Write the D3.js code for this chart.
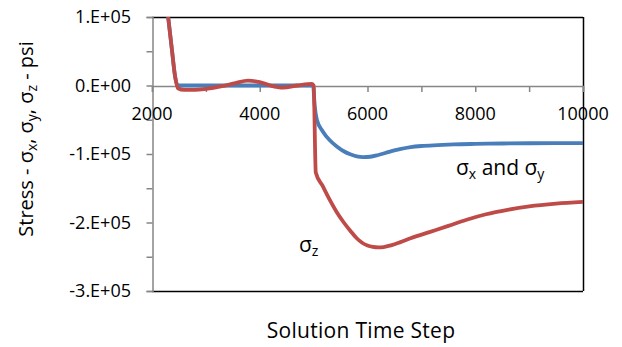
<!DOCTYPE html>
<html><head><meta charset="utf-8">
<script src="https://cdn.jsdelivr.net/npm/d3@7"></script>
<style>body{margin:0;background:#fff}svg{display:block}text{font-family:"Open Sans",sans-serif;fill:#000}</style>
</head><body><svg id="c" width="622" height="347"></svg>
<script>
const xTicks = [2000, 4000, 6000, 8000, 10000];
const yTicks = [100000, 0, -100000, -200000, -300000];
const yTickLabels = ["1.E+05", "0.E+00", "-1.E+05", "-2.E+05", "-3.E+05"];
const sigmaXY = [[2300,100000],[2370,52000],[2430,12000],[2480,0],[3000,0],[4000,0],[4990,0],[5020,-30000],[5060,-50000],[5170,-67000],[5300,-80000],[5430,-89000],[5560,-96000],[5680,-100500],[5800,-103500],[5920,-104500],[6050,-104000],[6200,-101500],[6400,-97000],[6600,-93000],[6800,-90000],[7000,-88300],[7300,-87000],[7600,-86000],[8000,-85300],[8500,-84700],[9000,-84300],[9500,-84000],[10000,-84000]];
const sigmaZ = [[2300,100000],[2370,52000],[2430,13000],[2480,-4000],[2600,-6500],[2800,-6500],[3000,-5000],[3300,-1000],[3550,3500],[3780,7000],[4000,5000],[4200,0],[4430,-3000],[4700,0],[4970,2500],[5000,0],[5040,-127000],[5170,-147000],[5300,-167000],[5430,-185000],[5560,-200000],[5680,-212000],[5800,-223000],[5900,-229500],[6000,-233500],[6100,-235500],[6200,-236200],[6300,-235800],[6450,-233000],[6600,-229000],[6800,-223000],[7150,-214000],[7500,-205000],[7840,-196000],[8200,-188000],[8600,-181500],[9000,-176500],[9500,-172500],[10000,-170000]];

const svg = d3.select("#c");
const L=152, R=583, T=17, B=291;
const x = d3.scaleLinear().domain([2000,10000]).range([L,R]);
const y = d3.scaleLinear().domain([-300000,100000]).range([B,T]);
const grey="#868686";

// frame
svg.append("line").attr("x1",L).attr("x2",R).attr("y1",T+0.5).attr("y2",T+0.5).attr("stroke","#000").attr("stroke-width",1.5);
svg.append("line").attr("x1",L).attr("x2",R).attr("y1",B+0.5).attr("y2",B+0.5).attr("stroke","#000").attr("stroke-width",1.5);
svg.append("line").attr("x1",R+0.5).attr("x2",R+0.5).attr("y1",T).attr("y2",B).attr("stroke","#000").attr("stroke-width",1.5);

// y axis
const yAx = svg.append("g").attr("transform",`translate(${L+0.5},0)`)
  .call(d3.axisLeft(y).tickValues(d3.range(-300000,100001,50000)).tickSize(6).tickFormat(""));
yAx.select(".domain").attr("stroke",grey).attr("stroke-width",1.5);
yAx.selectAll(".tick line").attr("stroke",grey).attr("stroke-width",1.5);
svg.append("g").selectAll("text").data(yTicks).join("text")
  .attr("x",131).attr("y",d=>y(d)).attr("dy","0.35em").attr("text-anchor","end")
  .style("font-size","18px").text((d,i)=>yTickLabels[i]);

// x axis at y=0
const xAx = svg.append("g").attr("transform",`translate(0,${y(0)+0.5})`)
  .call(d3.axisBottom(x).tickValues(d3.range(2000,10001,1000)).tickSize(6).tickFormat(""));
xAx.select(".domain").attr("stroke",grey).attr("stroke-width",1.5);
xAx.selectAll(".tick line").attr("stroke",grey).attr("stroke-width",1.5);
svg.append("g").selectAll("text").data(xTicks).join("text")
  .attr("x",d=>x(d)).attr("y",y(0)+28).attr("dy","0.35em").attr("text-anchor","middle")
  .style("font-size","18px").text(d=>d);

// lines
svg.append("clipPath").attr("id","cp").append("rect").attr("x",L).attr("y",T).attr("width",R-L).attr("height",B-T);
const line = d3.line().x(d=>x(d[0])).y(d=>y(d[1])).curve(d3.curveMonotoneX);
svg.append("path").datum(sigmaXY).attr("d",line).attr("fill","none").attr("stroke","#4A7EBB").attr("stroke-width",3.8).attr("stroke-linejoin","round").attr("clip-path","url(#cp)");
svg.append("path").datum(sigmaZ).attr("d",line).attr("fill","none").attr("stroke","#BE4B48").attr("stroke-width",3.8).attr("stroke-linejoin","round").attr("clip-path","url(#cp)");

// annotations
const SUB="14px";
const a1 = svg.append("text").attr("x",456).attr("y",175).style("font-size","21px");
a1.append("tspan").text("σ");
a1.append("tspan").text("x").style("font-size",SUB).attr("dy",4);
a1.append("tspan").text(" and σ").attr("dy",-4);
a1.append("tspan").text("y").style("font-size",SUB).attr("dy",4);

const a2 = svg.append("text").attr("x",299).attr("y",252).style("font-size","21px");
a2.append("tspan").text("σ");
a2.append("tspan").text("z").style("font-size",SUB).attr("dy",4);

// axis titles
svg.append("text").attr("x",361).attr("y",338).attr("text-anchor","middle").style("font-size","21px").style("letter-spacing","0.3px").text("Solution Time Step");
const yt = svg.append("text").attr("transform","translate(33,139) rotate(-90)").attr("text-anchor","middle").style("font-size","20px");
yt.append("tspan").text("Stress  - σ");
yt.append("tspan").text("x").style("font-size",SUB).attr("dy",4);
yt.append("tspan").text(", σ").attr("dy",-4);
yt.append("tspan").text("y").style("font-size",SUB).attr("dy",4);
yt.append("tspan").text(", σ").attr("dy",-4);
yt.append("tspan").text("z").style("font-size",SUB).attr("dy",4);
yt.append("tspan").text(" - psi").attr("dy",-4);
</script></body></html>
